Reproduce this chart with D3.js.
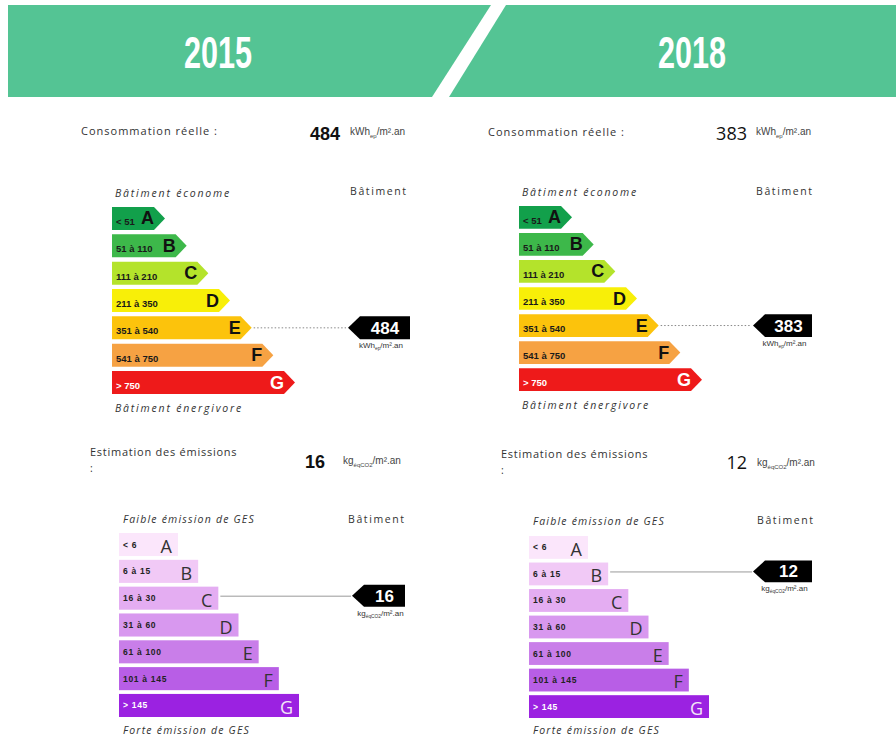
<!DOCTYPE html>
<html><head><meta charset="utf-8">
<script src="https://cdn.jsdelivr.net/npm/d3@7"></script>
<style>body{margin:0;background:#fff} svg{display:block}</style>
</head><body>
<svg id="c" width="896" height="739"></svg>
<script>
// ---------- data ----------
const years = ["2015", "2018"];
const classes = ["A", "B", "C", "D", "E", "F", "G"];
const energyRanges = ["< 51", "51 à 110", "111 à 210", "211 à 350", "351 à 540", "541 à 750", "> 750"];
const energyThresholds = [51, 111, 211, 351, 541, 751];
const energyValues = [484, 383];
const energyColors = ["#12a04b", "#3db84a", "#b4e32b", "#f8ef08", "#fcc30c", "#f6a243", "#ee1a1a"];
const gesRanges = ["< 6", "6 à 15", "16 à 30", "31 à 60", "61 à 100", "101 à 145", "> 145"];
const gesThresholds = [6, 16, 31, 61, 101, 146];
const gesValues = [16, 12];
const gesColors = ["#fbe6fb", "#f1c9f6", "#e4adf2", "#d898ef", "#c97ee9", "#b85ee6", "#9b22e1"];

// ---------- layout ----------
const panels = [
  { eX0: 112, eTop: 207, eBot: 394, eMk: [348, 410], cons: [81, 135], val: [340, 140], unit: [350, 135],
    top: [115, 197], bat: [350, 195], bot: [115, 412], bold: true,
    gX0: 119, gTop: 533, gBot: 717, gMk: [352, 405], est: [90, 456], gval: [325, 468], gunit: [343, 464],
    gtop: [123, 523], gbat: [348, 523], gbot: [123, 734], hx: 218 },
  { eX0: 519, eTop: 206, eBot: 391, eMk: [753, 812], cons: [488, 136], val: [747, 140], unit: [756, 135],
    top: [522, 196], bat: [756, 195], bot: [522, 409], bold: false,
    gX0: 529, gTop: 536, gBot: 718, gMk: [753, 812], est: [501, 458], gval: [747, 469], gunit: [757, 466],
    gtop: [533, 525], gbat: [757, 524], gbot: [533, 734], hx: 692 }
];

const svg = d3.select("#c");
const SANS = "'Open Sans', 'Noto Sans', sans-serif";
const ARIAL = "'Liberation Sans', Arial, sans-serif";

// ---------- header ----------
const green = "#54c494";
svg.append("path").attr("d", "M8,5 L491,5 L432,97 L8,97 Z").attr("fill", green);
svg.append("path").attr("d", "M506,5 L896,5 L896,97 L449,97 Z").attr("fill", green);
years.forEach((y, i) => {
  svg.append("g").attr("transform", `translate(${panels[i].hx},68) scale(0.68,1)`)
    .append("text").attr("x", 0).attr("y", 0).attr("text-anchor", "middle")
    .attr("fill", "#fff").attr("font-family", ARIAL)
    .attr("font-size", 45).attr("font-weight", "bold").text(y);
});

function unitText(g, x, y, size, sub, anchor) {
  const t = g.append("text").attr("x", x).attr("y", y).attr("font-family", ARIAL)
    .attr("font-size", size).attr("fill", "#444").attr("text-anchor", anchor || "start");
  t.append("tspan").text(sub[0]);
  t.append("tspan").attr("font-size", size * 0.6).attr("dy", size * 0.25).text(sub[1]);
  t.append("tspan").attr("dy", -size * 0.25).text(sub[2]);
  return t;
}

function label(g, x, y, txt, opts) {
  const t = g.append("text").attr("x", x).attr("y", y).attr("font-family", opts.family || SANS)
    .attr("font-size", opts.size || 11).attr("fill", opts.fill || "#333")
    .attr("letter-spacing", opts.ls || 0).text(txt);
  if (opts.italic) t.attr("font-style", "italic");
  if (opts.weight) t.attr("font-weight", opts.weight);
  if (opts.anchor) t.attr("text-anchor", opts.anchor);
  return t;
}

function marker(g, tipX, right, y0, h, value, sub) {
  const cy = y0 + h / 2;
  g.append("path").attr("d",
    `M${tipX},${cy} L${tipX + 12},${y0} L${right},${y0} L${right},${y0 + h} L${tipX + 12},${y0 + h} Z`)
    .attr("fill", "#000");
  const cx = (tipX + 12 + right) / 2;
  g.append("text").attr("x", cx).attr("y", cy + 6).attr("text-anchor", "middle")
    .attr("font-family", ARIAL).attr("font-weight", "bold").attr("font-size", 17)
    .attr("fill", "#fff").text(value);
  unitText(g, cx - 4, y0 + h + 9, 8, sub, "middle").attr("fill", "#333");
}

panels.forEach((p, i) => {
  const g = svg.append("g");
  const eVal = energyValues[i], gVal = gesValues[i];

  // ----- energy block -----
  label(g, p.cons[0], p.cons[1], "Consommation réelle :", { size: 11, ls: 1.0 });
  label(g, p.val[0], p.val[1], String(eVal), {
    size: 18, anchor: "end", fill: "#111",
    family: p.bold ? ARIAL : SANS, weight: p.bold ? "bold" : "normal" });
  unitText(g, p.unit[0], p.unit[1], 10, ["kWh", "ep", "/m².an"]);
  label(g, p.top[0], p.top[1], "Bâtiment économe", { size: 10.5, italic: true, ls: 1.8 });
  label(g, p.bat[0], p.bat[1], "Bâtiment", { size: 10.5, ls: 1.6 });
  label(g, p.bot[0], p.bot[1], "Bâtiment énergivore", { size: 10.5, italic: true, ls: 1.8 });

  const ey = d3.scaleBand().domain(classes).range([p.eTop, p.eBot]).paddingInner(0.16).paddingOuter(0);
  const ew = d3.scaleLinear().domain([0, classes.length - 1]).range([53, 183]);
  const eh = ey.bandwidth();
  const eRows = g.selectAll("g.e").data(classes).join("g").attr("class", "e");
  eRows.append("path").attr("d", (c, k) => {
    const y = ey(c), tip = p.eX0 + ew(k), d = 11;
    return `M${p.eX0},${y} L${tip - d},${y} L${tip},${y + eh / 2} L${tip - d},${y + eh} L${p.eX0},${y + eh} Z`;
  }).attr("fill", (c, k) => energyColors[k]);
  eRows.append("text").attr("x", p.eX0 + 4).attr("y", c => ey(c) + eh - 5)
    .attr("font-family", ARIAL).attr("font-weight", "bold").attr("font-size", 9.5)
    .attr("fill", (c, k) => k === 6 ? "#fff" : "#1a1a1a").text((c, k) => energyRanges[k]);
  eRows.append("text").attr("x", (c, k) => p.eX0 + ew(k) - 11).attr("y", c => ey(c) + eh / 2 + 6)
    .attr("text-anchor", "end").attr("font-family", ARIAL).attr("font-weight", "bold").attr("font-size", 18)
    .attr("fill", (c, k) => k === 6 ? "#fff" : "#111").text(c => c);

  const ek = d3.bisectRight(energyThresholds, eVal);
  const eCls = classes[ek];
  g.append("line").attr("x1", p.eX0 + ew(ek) + 2).attr("x2", p.eMk[0] - 2)
    .attr("y1", ey(eCls) + eh / 2).attr("y2", ey(eCls) + eh / 2)
    .attr("stroke", "#888").attr("stroke-width", 1).attr("stroke-dasharray", "1.5,2");
  marker(g, p.eMk[0], p.eMk[1], ey(eCls), eh, String(eVal), ["kWh", "ep", "/m².an"]);

  // ----- GES block -----
  label(g, p.est[0], p.est[1], "Estimation des émissions", { size: 11, ls: 0.75 });
  label(g, p.est[0], p.est[1] + 16, ":", { size: 10.5 });
  label(g, p.gval[0], p.gval[1], String(gVal), {
    size: 18, anchor: "end", fill: "#111",
    family: p.bold ? ARIAL : SANS, weight: p.bold ? "bold" : "normal" });
  unitText(g, p.gunit[0], p.gunit[1], 10, ["kg", "éqCO2", "/m².an"]);
  label(g, p.gtop[0], p.gtop[1], "Faible émission de GES", { size: 10.5, italic: true, ls: 1.2 });
  label(g, p.gbat[0], p.gbat[1], "Bâtiment", { size: 10.5, ls: 1.6 });
  label(g, p.gbot[0], p.gbot[1], "Forte émission de GES", { size: 10.5, italic: true, ls: 1.2 });

  const gy = d3.scaleBand().domain(classes).range([p.gTop, p.gBot]).paddingInner(0.14).paddingOuter(0);
  const gw = d3.scaleLinear().domain([0, classes.length - 1]).range([59, 180]);
  const gh = gy.bandwidth();
  const gRows = g.selectAll("g.g").data(classes).join("g").attr("class", "g");
  gRows.append("rect").attr("x", p.gX0).attr("y", c => gy(c)).attr("height", gh)
    .attr("width", (c, k) => gw(k)).attr("fill", (c, k) => gesColors[k]);
  gRows.append("text").attr("x", p.gX0 + 4).attr("y", c => gy(c) + gh / 2 + 3)
    .attr("font-family", ARIAL).attr("font-weight", "bold").attr("font-size", 8.5)
    .attr("letter-spacing", 0.7)
    .attr("fill", (c, k) => k === 6 ? "#fff" : "#222").text((c, k) => gesRanges[k]);
  gRows.append("text").attr("x", (c, k) => p.gX0 + gw(k) - 6).attr("y", c => gy(c) + gh - 3)
    .attr("text-anchor", "end").attr("font-family", SANS).attr("font-size", 18)
    .attr("fill", (c, k) => k === 6 ? "#f3e6f7" : "#333").text(c => c);

  const gk = d3.bisectRight(gesThresholds, gVal);
  const gCls = classes[gk];
  g.append("line").attr("x1", p.gX0 + gw(gk) + 2).attr("x2", p.gMk[0] - 1)
    .attr("y1", gy(gCls) + gh / 2 - 2).attr("y2", gy(gCls) + gh / 2 - 2)
    .attr("stroke", "#999").attr("stroke-width", 1);
  marker(g, p.gMk[0], p.gMk[1], gy(gCls) - 2, gh - 1, String(gVal), ["kg", "éqCO2", "/m².an"]);
});
</script>
</body></html>
